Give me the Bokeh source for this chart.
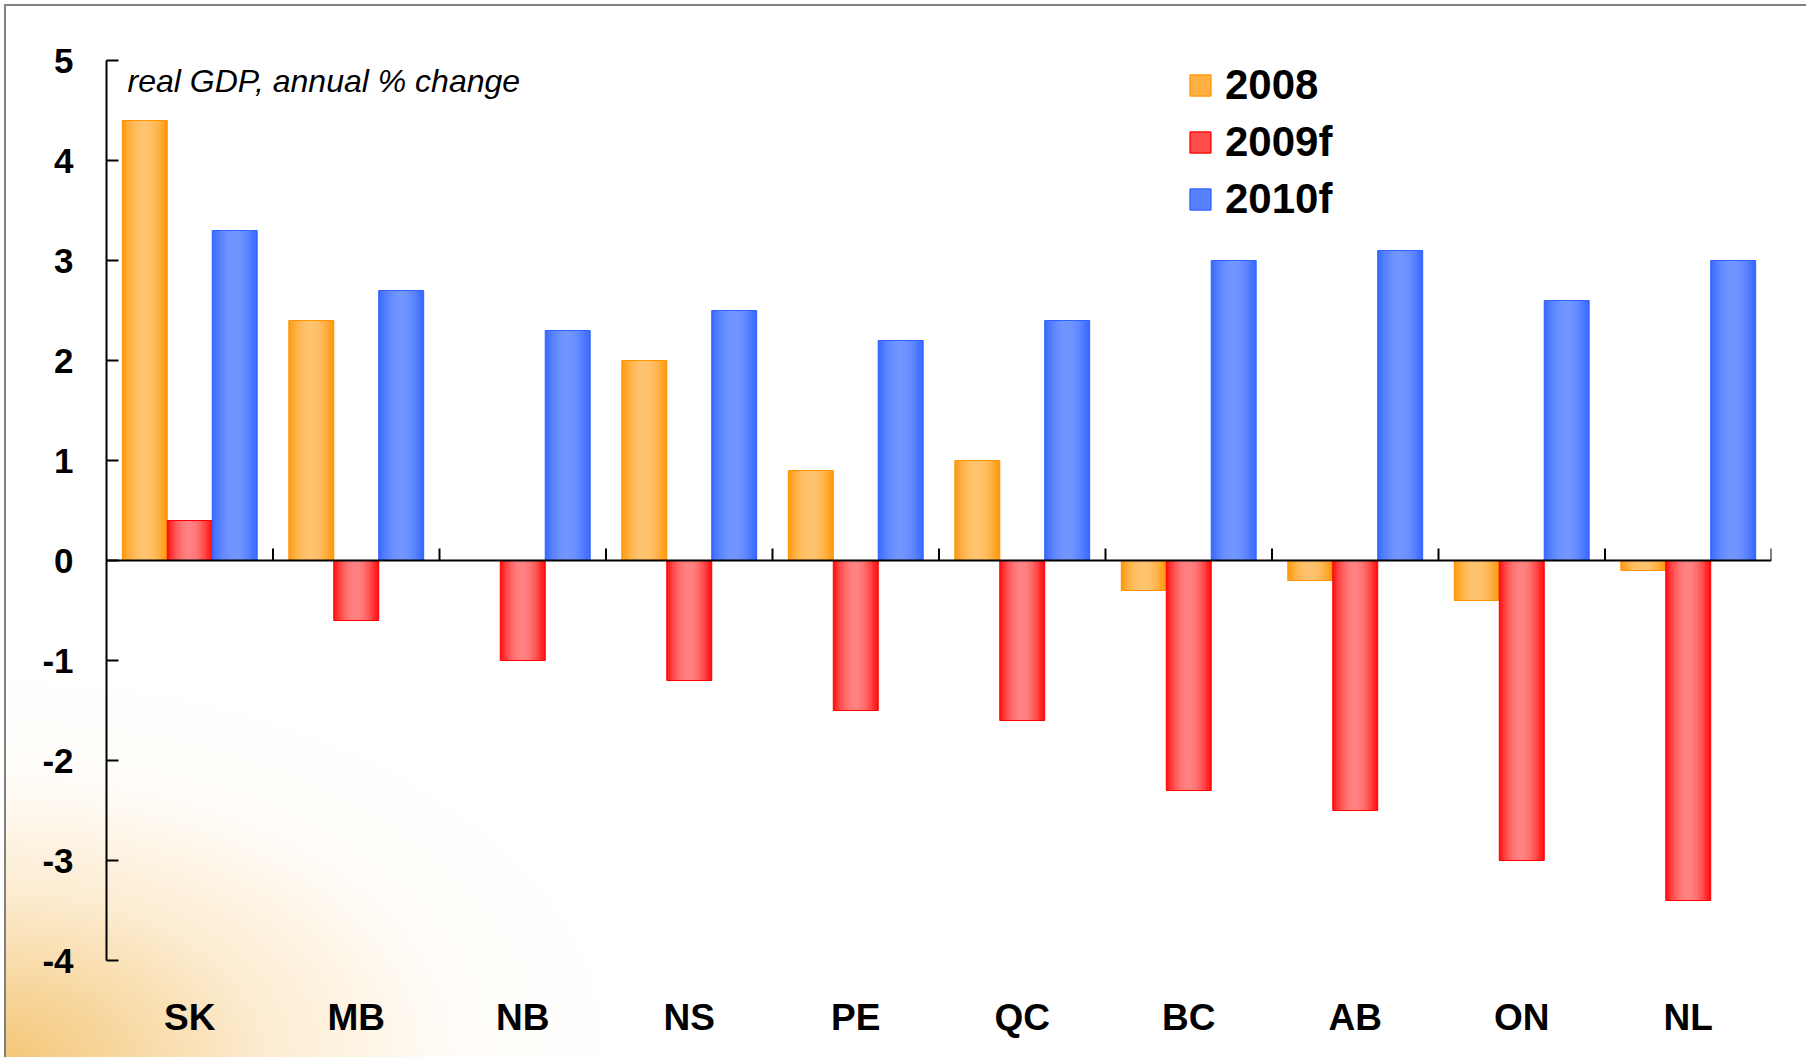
import numpy as np
from bokeh.plotting import figure
from bokeh.models import (FactorRange, Range1d, FixedTicker, Span, Label,
                          Legend, LegendItem, ColumnDataSource)
from bokeh.transform import dodge
from bokeh.embed import file_html
from bokeh.resources import INLINE

# ---------------- data ----------------
provinces = ["SK", "MB", "NB", "NS", "PE", "QC", "BC", "AB", "ON", "NL"]
gdp_2008 = [4.4, 2.4, 0.0, 2.0, 0.9, 1.0, -0.3, -0.2, -0.4, -0.1]
gdp_2009f = [0.4, -0.6, -1.0, -1.2, -1.5, -1.6, -2.3, -2.5, -3.0, -3.4]
gdp_2010f = [3.3, 2.7, 2.3, 2.5, 2.2, 2.4, 3.0, 3.1, 2.6, 3.0]
series_names = ["2008", "2009f", "2010f"]
y_ticks = [-4, -3, -2, -1, 0, 1, 2, 3, 4, 5]
subtitle = "real GDP, annual % change"

# ---------------- styling ----------------
FONT = "Liberation Sans"
edge_cols = [(255, 148, 0), (255, 0, 0), (48, 98, 255)]
center_cols = [(255, 196, 112), (255, 130, 130), (114, 150, 255)]
bar_w = 0.27
offsets = [-bar_w, 0.0, bar_w]
n_strips = 24

src = ColumnDataSource(dict(x=provinces, s0=gdp_2008, s1=gdp_2009f, s2=gdp_2010f,
                            zero=[0.0] * len(provinces)))

W, H = 1806, 1057
p = figure(x_range=FactorRange(factors=provinces, range_padding=0),
           y_range=Range1d(-4, 5),
           width=W, height=H, output_backend="svg", toolbar_location=None,
           min_border_left=106, min_border_right=W - 106 - 1665, min_border_top=60,
           min_border_bottom=H - 960)
p.background_fill_alpha = 0
p.border_fill_alpha = 0
p.outline_line_color = None
p.grid.grid_line_color = None
p.styles = {
    "background": "radial-gradient(ellipse 36% 38% at 0% 100%, rgba(242,192,104,0.9) 0%, "
                  "rgba(250,222,175,0.6) 40%, rgba(255,245,230,0.25) 70%, rgba(255,255,255,0) 100%)",
    "box-shadow": "inset 4px 4px 0 #ffffff, inset 6px 6px 0 #808080",
}


def mix(a, b, t):
    return "#%02x%02x%02x" % tuple(int(round(a[k] + (b[k] - a[k]) * t)) for k in range(3))


cols = ["s0", "s1", "s2"]
strip_w = bar_w / n_strips
for si in range(3):
    for i in range(n_strips):
        t = np.sin(np.pi * (i + 0.5) / n_strips) ** 0.8
        c = mix(edge_cols[si], center_cols[si], t)
        off = offsets[si] - bar_w / 2 + (i + 0.5) * strip_w
        w = strip_w * (1.0 if i in (0, n_strips - 1) else 1.6)
        p.vbar(x=dodge("x", off, range=p.x_range), top=cols[si], bottom=0,
               width=w, source=src, fill_color=c, line_color=None)
    p.vbar(x=dodge("x", offsets[si], range=p.x_range), top=cols[si], bottom=0,
           width=bar_w, source=src, fill_alpha=0,
           line_color=mix(edge_cols[si], (0, 0, 0), 0.0), line_width=1)

# legend proxy renderers (zero-height, hidden under the zero line)
legend_renderers = []
for si in range(3):
    r = p.vbar(x="x", top="zero", bottom="zero", width=0.0, source=src,
               fill_color=mix(edge_cols[si], center_cols[si], 0.6),
               line_color=mix(edge_cols[si], center_cols[si], 0.1), line_width=1.5)
    legend_renderers.append(r)

# zero line with category-boundary ticks (pointing up)
p.add_layout(Span(location=0, dimension="width", line_color="black", line_width=2))
tick_src = ColumnDataSource(dict(x=provinces[1:]))
end_src = ColumnDataSource(dict(x=provinces[-1:]))
tick_len = 0.12
p.segment(x0=dodge("x", -0.5, range=p.x_range), x1=dodge("x", -0.5, range=p.x_range),
          y0=0, y1=tick_len, source=tick_src, line_color="black", line_width=2)
p.segment(x0=dodge("x", 0.5, range=p.x_range), x1=dodge("x", 0.5, range=p.x_range),
          y0=0, y1=tick_len, source=end_src, line_color="black", line_width=2)

# y axis
ya = p.yaxis[0]
ya.ticker = FixedTicker(ticks=y_ticks)
ya.major_label_overrides = {t: str(t) for t in y_ticks}
ya.axis_line_width = 2
ya.axis_line_color = "black"
ya.major_tick_line_width = 2
ya.major_tick_in = 12
ya.major_tick_out = 0
ya.minor_tick_line_color = None
ya.major_label_standoff = 33
ya.major_label_text_font = FONT
ya.major_label_text_font_style = "bold"
ya.major_label_text_font_size = "35px"
ya.major_label_text_color = "black"

# x axis (category labels at bottom)
xa = p.xaxis[0]
xa.axis_line_color = None
xa.major_tick_line_color = None
xa.major_tick_out = 0
xa.major_tick_in = 0
xa.minor_tick_line_color = None
xa.major_label_standoff = 36
xa.major_label_text_font = FONT
xa.major_label_text_font_style = "bold"
xa.major_label_text_font_size = "37px"
xa.major_label_text_color = "black"

# subtitle
p.add_layout(Label(x=21, y=880, x_units="screen", y_units="screen", text=subtitle,
                   text_font=FONT, text_font_style="italic", text_font_size="32px",
                   text_color="black", text_baseline="alphabetic", text_align="left"))

# legend (kept fully inside the frame so nothing is clipped)
items = [LegendItem(label=name, renderers=[legend_renderers[si]])
         for si, name in enumerate(series_names)]
legend = Legend(items=items, location=(1081, 737), orientation="vertical",
                border_line_color=None, background_fill_alpha=0,
                padding=0, margin=0, spacing=9,
                glyph_width=26, glyph_height=26, label_standoff=12,
                label_height=40,
                label_text_font=FONT, label_text_font_style="bold",
                label_text_font_size="42px", label_text_color="black")
p.add_layout(legend)

open("out.html", "w").write(file_html(p, INLINE))
